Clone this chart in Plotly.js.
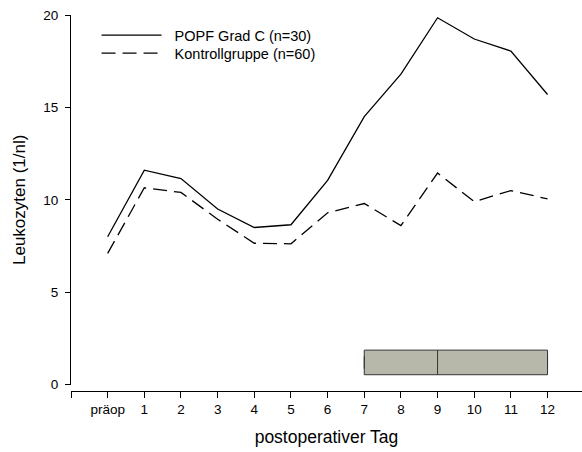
<!DOCTYPE html>
<html>
<head>
<meta charset="utf-8">
<script src="https://cdn.plot.ly/plotly-3.0.1.min.js"></script>
<style>html,body{margin:0;padding:0;background:#fff;}#chart{width:582px;height:452px;}</style>
</head>
<body>
<div id="chart"></div>
<script>
var days = [0,1,2,3,4,5,6,7,8,9,10,11,12];
var dayLabels = ["präop","1","2","3","4","5","6","7","8","9","10","11","12"];
var popfValues = [8.0,11.6,11.15,9.5,8.5,8.65,11.05,14.5,16.8,19.85,18.7,18.05,15.7];
var controlValues = [7.1,10.65,10.4,8.95,7.65,7.62,9.3,9.8,8.6,11.45,9.9,10.5,10.05];
var seriesNames = ["POPF Grad C (n=30)","Kontrollgruppe (n=60)"];
// horizontal box: day of diagnosis
var boxQ1 = [7], boxMedian = [9], boxQ3 = [12], boxPos = [1.2], boxWidth = 1.33;

var traces = [
  {x: days, y: popfValues, type:'scatter', mode:'lines', name: '\u00a0\u00a0' + seriesNames[0],
   line:{color:'#000', width:1.3}, legend:'legend'},
  {x: days, y: controlValues, type:'scatter', mode:'lines', name: '\u00a0\u00a0' + seriesNames[1],
   line:{color:'#000', width:1.3, dash:'14px,7px'}, legend:'legend2'},
  {type:'box', orientation:'h', y: boxPos, q1: boxQ1, median: boxMedian, q3: boxQ3,
   lowerfence: boxQ1, upperfence: boxQ3, width: boxWidth, showlegend:false,
   fillcolor:'rgb(184,184,170)', line:{color:'#333', width:1}, hoverinfo:'skip',
   xaxis:'x', yaxis:'y'}
];

var legendStyle = function(yPos){
  return {x:0.05, y:yPos, xanchor:'left', yanchor:'top', bgcolor:'rgba(0,0,0,0)',
          font:{size:14.5}, itemwidth:60};
};

var layout = {
  width:582, height:452,
  margin:{l:71, r:0, t:15, b:61, pad:0},
  paper_bgcolor:'#fff', plot_bgcolor:'#fff',
  font:{family:'Liberation Sans, Arial, sans-serif', size:13.5, color:'#000'},
  showlegend:true,
  legend: legendStyle(0.989),
  legend2: legendStyle(0.941),
  xaxis:{range:[-1,12.94], tickmode:'array', tickvals:[-1].concat(days), ticktext:[''].concat(dayLabels),
         showgrid:false, zeroline:false, showline:true, linecolor:'#000', linewidth:1,
         ticks:'outside', ticklen:6, tickcolor:'#000', anchor:'free', position:0,
         tickfont:{size:13.5},
         title:{text:'postoperativer Tag', font:{size:17.5}, standoff:14}},
  yaxis:{range:[0,20], domain:[0.017,1], tickvals:[0,5,10,15,20],
         showgrid:false, zeroline:false, showline:true, linecolor:'#000', linewidth:1,
         ticks:'outside', ticklen:5, tickcolor:'#000', tickfont:{size:13.5}, ticklabelstandoff:4,
         title:{text:'Leukozyten (1/nl)', font:{size:17}, standoff:13}}
};
Plotly.newPlot('chart', traces, layout, {displayModeBar:false, staticPlot:true});
</script>
</body>
</html>
